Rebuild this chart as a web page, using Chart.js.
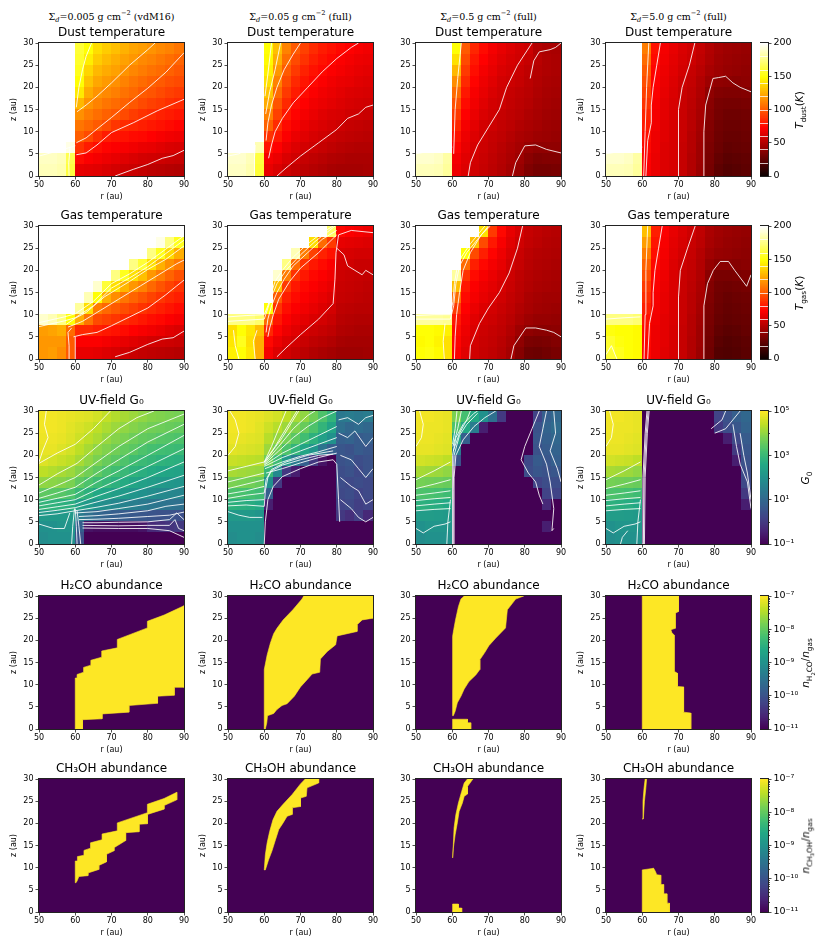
<!DOCTYPE html>
<html>
<head>
<meta charset="utf-8">
<script src="https://cdn.jsdelivr.net/npm/chart.js@4/dist/chart.umd.min.js"></script>
<style>
  body { margin: 0; background: #fff; }
  #fig { position: relative; width: 830px; height: 949px; overflow: hidden; }
  #fig canvas { position: absolute; }
  .hdr { position: absolute; font-family: 'DejaVu Serif', serif; font-size: 9.5px; white-space: nowrap; transform: translate(-50%, -50%); color: #000; }
  .cbl { position: absolute; font-family: 'DejaVu Sans', sans-serif; font-size: 10.5px; white-space: nowrap; transform: translate(-50%, -50%) rotate(-90deg); color: #000; }
  sub, sup { font-size: 70%; line-height: 0; }
</style>
</head>
<body>
<div id="fig"></div>
<script>
// ─── axes / categories ───────────────────────────────
const R_EDGES = [50, 52.5, 55, 57.5, 60, 62.5, 65, 67.5, 70, 72.5, 75, 77.5, 80, 82.5, 85, 87.5, 90];
const Z_EDGES = [30, 27.5, 25, 22.5, 20, 17.5, 15, 12.5, 10, 7.5, 5, 2.5, 0];
const R_TICKS = [50, 60, 70, 80, 90];
const Z_TICKS = [0, 5, 10, 15, 20, 25, 30];
const SIGMA_VALUES = ['0.005', '0.05', '0.5', '5.0'];
const SIGMA_NOTES = ['vdM16', 'full', 'full', 'full'];
const ROW_TITLES = ['Dust temperature', 'Gas temperature', 'UV-field G₀', 'H₂CO abundance', 'CH₃OH abundance'];
const TEMP_TICKS = [0, 50, 100, 150, 200];
const TEMP_LEVELS = [20, 40, 60, 80, 100, 120, 140, 160, 180];
const LOGG0_TICKS = [-1, 1, 3, 5];
const ABUND_TICKS = [-11, -10, -9, -8, -7];
const ABUND_FLOOR = -11;
const ABUND_PEAK = -7;

// ─── dust temperature (K), rows z=30→0, cols r=50→90 ────────
const TDUST_0005 = [
  [230,230,230,230,160,150,139,134,130,126,122,120,117,114,112,108],
  [230,230,230,230,158,144,134,129,125,121,118,114,112,109,106,103],
  [230,230,230,230,155,137,128,124,121,117,113,110,107,105,102,99],
  [230,230,230,230,150,131,123,119,116,112,108,105,102,100,97,95],
  [230,230,230,230,143,124,117,114,111,107,104,100,98,95,92,90],
  [230,230,230,230,128,117,112,108,105,102,99,95,92,90,87,85],
  [230,230,230,230,116,110,106,102,99,95,91,88,86,83,81,79],
  [230,230,230,230,108,104,100,95,89,86,84,82,80,78,76,74],
  [230,230,230,230,101,95,87,81,79,78,76,75,73,71,69,68],
  [205,205,203,195,88,81,77,74,72,71,69,67,66,64,62,61],
  [188,188,186,165,76,72,70,68,66,64,62,60,59,58,57,56],
  [186,186,184,162,66,65,64,62,60,58,57,55,53,52,51,50]
];
const TDUST_005 = [
  [230,230,230,230,150,130,112,100,92,86,81,78,75,73,71,69],
  [230,230,230,230,148,125,106,95,88,82,78,75,72,70,68,67],
  [230,230,230,230,145,118,100,90,83,78,75,72,70,68,66,65],
  [230,230,230,230,140,112,95,85,79,75,72,69,67,66,64,63],
  [230,230,230,230,132,105,90,81,76,72,69,67,65,63,62,61],
  [230,230,230,230,124,98,85,77,73,69,67,65,63,61,60,59],
  [230,230,230,230,112,92,80,74,70,67,64,62,61,59,58,57],
  [230,230,230,230,102,86,76,71,67,64,62,60,58,56,55,54],
  [230,230,230,228,88,80,72,67,64,61,59,57,55,54,53,52],
  [205,205,200,185,78,73,67,63,60,58,56,54,52,51,50,50],
  [190,190,186,162,70,67,62,59,56,54,52,50,49,48,48,48],
  [188,188,184,160,66,62,58,55,53,51,49,47,46,46,46,47]
];
const TDUST_05 = [
  [230,230,230,230,150,100,84,76,70,66,63,60,58,50,48,47],
  [230,230,230,230,140,95,80,73,68,64,61,59,56,52,49,48],
  [230,230,230,230,128,90,77,70,66,62,60,57,54,51,49,48],
  [230,230,230,230,115,85,74,68,64,60,58,56,53,50,48,47],
  [230,230,230,230,105,80,71,66,62,59,56,54,52,49,47,46],
  [230,230,230,230,97,76,69,64,60,58,55,53,51,48,46,45],
  [230,230,230,230,90,73,67,62,59,56,54,52,49,47,45,44],
  [230,230,230,230,84,70,65,60,58,55,53,50,48,46,44,43],
  [230,230,230,230,78,68,63,59,56,54,51,48,46,44,43,42],
  [205,205,203,200,74,66,61,58,55,52,49,46,42,40,40,40],
  [190,190,188,182,70,64,60,57,54,51,48,44,38,35,36,36],
  [186,186,185,180,68,63,59,56,53,50,46,42,35,32,32,33]
];
const TDUST_5 = [
  [230,230,230,230,110,78,70,66,62,59,55,50,46,44,43,42],
  [230,230,230,230,105,76,69,65,61,58,54,49,45,43,42,41],
  [230,230,230,230,100,74,68,64,60,56,52,47,44,42,41,40],
  [230,230,230,230,96,73,67,63,58,55,50,44,40,39,38,39],
  [230,230,230,230,92,72,66,62,57,54,49,40,36,35,35,36],
  [230,230,230,230,88,71,65,61,57,53,48,38,33,32,32,33],
  [230,230,230,230,84,70,65,61,57,52,47,37,32,30,30,31],
  [230,230,230,230,80,69,64,61,57,52,46,36,31,29,29,30],
  [230,230,230,230,77,68,64,61,57,51,45,35,30,28,28,29],
  [205,205,203,200,75,68,63,61,56,51,44,34,29,26,27,28],
  [190,190,188,182,73,67,63,61,56,50,44,33,27,24,25,26],
  [186,186,185,180,72,67,63,61,56,50,43,32,25,22,23,25]
];

// ─── gas temperature (K) ─────────────────────────────
const TGAS_0005 = [
  [230,230,230,230,230,230,230,230,230,230,230,230,230,230,220,200],
  [230,230,230,230,230,230,230,230,230,230,230,230,220,195,175,155],
  [230,230,230,230,230,230,230,230,230,230,230,200,175,155,138,125],
  [230,230,230,230,230,230,230,230,230,200,175,160,140,126,116,109],
  [230,230,230,230,230,230,230,200,175,155,140,130,118,110,103,97],
  [230,230,230,230,230,230,190,160,140,127,118,112,104,98,93,88],
  [230,230,230,230,230,185,150,125,115,108,103,98,93,89,85,82],
  [230,230,230,220,180,140,110,104,100,96,92,88,85,82,79,76],
  [190,185,175,150,125,108,95,92,89,86,83,80,77,75,72,70],
  [120,122,125,105,85,85,82,80,78,76,73,71,69,67,64,62],
  [118,118,118,100,72,72,72,70,68,66,64,62,60,59,58,57],
  [118,120,115,100,66,66,65,63,61,59,57,55,54,53,52,51]
];
const TGAS_005 = [
  [230,230,230,230,230,230,230,230,230,230,200,170,75,72,70,68],
  [230,230,230,230,230,230,230,230,200,140,105,90,66,65,64,63],
  [230,230,230,230,230,230,230,185,110,92,83,78,62,61,60,60],
  [230,230,230,230,230,230,175,105,88,80,76,72,60,59,57,57],
  [230,230,230,230,230,190,110,88,80,75,72,69,58,57,56,55],
  [230,230,230,230,230,130,90,80,75,72,69,66,57,56,55,54],
  [230,230,230,230,200,100,82,76,72,69,66,63,56,55,54,53],
  [230,230,230,230,150,88,77,72,69,66,63,60,54,53,52,52],
  [175,175,175,170,105,80,72,68,65,62,60,57,52,51,50,50],
  [140,150,142,130,85,74,68,64,61,58,56,54,50,49,48,48],
  [142,155,140,125,75,68,63,60,57,54,52,50,47,46,46,46],
  [145,150,142,125,70,63,59,56,53,50,48,46,44,44,44,45]
];
const TGAS_05 = [
  [230,230,230,230,230,230,200,140,90,75,66,61,56,54,52,51],
  [230,230,230,230,230,220,130,95,80,71,64,59,55,53,51,50],
  [230,230,230,230,230,150,95,82,74,68,62,57,53,51,50,49],
  [230,230,230,230,230,105,82,75,70,66,60,56,52,50,49,48],
  [230,230,230,230,180,88,76,71,67,63,58,54,51,49,48,47],
  [230,230,230,230,130,80,72,68,65,61,57,53,50,48,47,46],
  [230,230,230,230,105,76,70,66,63,59,55,52,48,46,45,45],
  [230,230,230,230,90,73,67,63,60,57,54,50,47,45,44,43],
  [180,180,180,178,80,70,64,60,58,55,52,48,44,42,42,41],
  [150,150,148,145,76,68,62,58,56,54,50,44,40,38,38,39],
  [148,150,146,140,74,66,60,57,55,52,48,40,34,33,34,36],
  [150,152,148,140,72,64,59,56,54,51,46,37,30,29,31,33]
];
const TGAS_5 = [
  [230,230,230,230,130,82,72,66,62,58,54,48,45,43,42,41],
  [230,230,230,230,120,79,71,65,61,57,53,47,44,42,41,40],
  [230,230,230,230,110,77,70,64,60,56,51,45,42,41,40,39],
  [230,230,230,230,102,75,69,63,58,55,50,42,38,38,37,38],
  [230,230,230,230,96,73,68,62,57,54,49,38,33,33,34,35],
  [230,230,230,230,90,72,67,62,57,53,48,36,31,30,31,32],
  [230,230,230,230,86,71,66,62,57,52,47,35,30,28,29,30],
  [230,230,230,230,82,70,66,62,57,52,46,34,29,27,28,29],
  [175,175,175,172,78,69,65,62,57,51,45,33,28,26,27,28],
  [152,150,150,148,76,68,65,61,56,51,44,32,26,24,25,27],
  [158,152,150,148,75,68,65,61,56,50,44,31,24,22,23,25],
  [160,155,150,148,74,68,64,61,56,50,43,30,22,21,22,24]
];

// ─── UV field, log10 G0 ──────────────────────────────
const LOGG0_0005 = [
  [4.9,4.9,4.85,4.8,4.75,4.7,4.6,4.45,4.3,4.2,4.1,4.0,3.9,3.85,3.8,3.75],
  [4.9,4.9,4.85,4.75,4.65,4.55,4.4,4.25,4.1,4.0,3.9,3.8,3.7,3.65,3.6,3.55],
  [4.85,4.85,4.8,4.7,4.55,4.4,4.25,4.05,3.9,3.8,3.65,3.55,3.5,3.4,3.35,3.3],
  [4.8,4.8,4.7,4.6,4.4,4.2,4.0,3.85,3.7,3.55,3.45,3.3,3.2,3.15,3.1,3.05],
  [4.7,4.6,4.5,4.4,4.2,4.0,3.8,3.6,3.45,3.3,3.15,3.05,2.95,2.85,2.8,2.75],
  [4.4,4.3,4.2,4.1,3.9,3.7,3.5,3.3,3.15,3.0,2.85,2.75,2.65,2.55,2.5,2.45],
  [4.0,3.95,3.9,3.8,3.5,3.3,3.1,2.95,2.8,2.65,2.5,2.4,2.3,2.2,2.15,2.1],
  [3.5,3.45,3.4,3.3,3.0,2.8,2.6,2.5,2.35,2.2,2.1,2.0,1.9,1.8,1.75,1.7],
  [2.9,2.85,2.8,2.75,2.4,2.2,2.0,1.9,1.75,1.65,1.55,1.45,1.35,1.3,1.25,1.2],
  [2.2,2.2,2.2,2.2,1.5,1.2,1.0,0.9,0.8,0.7,0.65,0.6,0.55,0.5,0.5,0.45],
  [2.0,2.0,2.1,2.1,0.8,-0.7,-0.8,-0.8,-0.8,-0.8,-0.8,-0.7,-0.3,-0.2,-0.1,0.0],
  [1.9,2.0,2.0,2.0,0.5,-1,-1,-1,-1,-1,-1,-1,-1,-1,-1,-1]
];
const LOGG0_005 = [
  [4.9,4.9,4.85,4.8,4.7,4.6,4.4,4.2,4.0,3.7,3.3,2.9,1.4,1.5,1.4,1.5],
  [4.9,4.9,4.85,4.75,4.55,4.35,4.1,3.85,3.6,3.3,2.9,2.5,1.2,1.0,1.1,1.0],
  [4.85,4.8,4.75,4.7,4.35,4.05,3.75,3.45,3.15,2.8,2.4,2.0,0.8,0.9,0.7,0.8],
  [4.75,4.7,4.65,4.6,4.1,3.7,3.3,2.9,2.5,2.1,1.3,0.8,0.6,0.5,0.7,0.6],
  [4.5,4.45,4.4,4.35,3.7,3.1,2.2,1.5,0.8,0.0,-0.7,-1,0.5,0.6,0.4,0.5],
  [4.2,4.15,4.1,4.05,3.0,1.8,0.0,-0.5,-1,-1,-1,-1,0.4,0.5,0.3,0.5],
  [3.8,3.75,3.7,3.6,2.0,0.0,-1,-1,-1,-1,-1,-1,0.4,0.3,0.4,0.3],
  [3.3,3.25,3.2,3.1,0.8,-1,-1,-1,-1,-1,-1,-1,0.3,0.4,0.2,0.3],
  [2.8,2.75,2.7,2.6,-0.5,-1,-1,-1,-1,-1,-1,-1,0.2,0.3,0.1,0.2],
  [2.2,2.2,2.2,2.1,-1,-1,-1,-1,-1,-1,-1,-1,0.0,-0.2,0.1,-0.3],
  [2.0,2.0,2.0,2.0,-1,-1,-1,-1,-1,-1,-1,-1,-1,-1,-1,-1],
  [1.9,2.0,2.0,1.9,-1,-1,-1,-1,-1,-1,-1,-1,-1,-1,-1,-1]
];
const LOGG0_05 = [
  [4.9,4.9,4.85,4.8,3.8,3.2,2.6,2.0,1.2,0.0,-1,-1,-1,0.2,0.8,1.0],
  [4.9,4.85,4.85,4.8,3.3,2.6,1.5,-0.5,-1,-1,-1,-1,-1,0.5,0.9,1.1],
  [4.85,4.85,4.8,4.75,2.5,0.8,-1,-1,-1,-1,-1,-1,-1,0.6,0.8,1.0],
  [4.8,4.8,4.75,4.7,1.5,-1,-1,-1,-1,-1,-1,-1,-1,0.5,0.7,0.9],
  [4.6,4.55,4.5,4.4,0.5,-1,-1,-1,-1,-1,-1,-1,0.3,0.7,0.6,0.8],
  [4.2,4.15,4.1,4.0,-1,-1,-1,-1,-1,-1,-1,-1,0.4,0.6,0.5,0.6],
  [3.75,3.7,3.65,3.6,-1,-1,-1,-1,-1,-1,-1,-1,-1,0.2,0.4,0.4],
  [3.3,3.25,3.2,3.1,-1,-1,-1,-1,-1,-1,-1,-1,-1,-1,0.2,0.2],
  [2.8,2.75,2.7,2.6,-1,-1,-1,-1,-1,-1,-1,-1,-1,-1,-0.3,-1],
  [2.3,2.3,2.25,2.2,-1,-1,-1,-1,-1,-1,-1,-1,-1,-1,-1,-1],
  [2.0,2.1,2.1,2.1,-1,-1,-1,-1,-1,-1,-1,-1,-1,-1,-0.5,-1],
  [1.9,2.0,2.0,2.0,-1,-1,-1,-1,-1,-1,-1,-1,-1,-1,-1,-1]
];
const LOGG0_5 = [
  [4.9,4.9,4.85,4.8,-1,-1,-1,-1,-1,-1,-1,-1,0.2,0.5,0.8,1.0],
  [4.9,4.85,4.85,4.8,-1,-1,-1,-1,-1,-1,-1,-1,0.0,0.4,0.6,0.9],
  [4.85,4.85,4.8,4.75,-1,-1,-1,-1,-1,-1,-1,-1,-1,-0.5,0.3,0.7],
  [4.8,4.8,4.75,4.7,-1,-1,-1,-1,-1,-1,-1,-1,-1,-1,0.0,0.6],
  [4.6,4.55,4.5,4.4,-1,-1,-1,-1,-1,-1,-1,-1,-1,-1,-0.5,0.5],
  [4.2,4.15,4.1,4.0,-1,-1,-1,-1,-1,-1,-1,-1,-1,-1,-1,0.4],
  [3.75,3.7,3.65,3.6,-1,-1,-1,-1,-1,-1,-1,-1,-1,-1,-1,0.3],
  [3.3,3.25,3.2,3.1,-1,-1,-1,-1,-1,-1,-1,-1,-1,-1,-1,0.0],
  [2.8,2.75,2.7,2.6,-1,-1,-1,-1,-1,-1,-1,-1,-1,-1,-1,-0.5],
  [2.3,2.3,2.25,2.2,-1,-1,-1,-1,-1,-1,-1,-1,-1,-1,-1,-1],
  [2.0,2.1,2.1,2.1,-1,-1,-1,-1,-1,-1,-1,-1,-1,-1,-1,-1],
  [1.9,2.0,2.0,2.0,-1,-1,-1,-1,-1,-1,-1,-1,-1,-1,-1,-1]
];

// ─── contour lines, [r, z] ───────────────────────────
const TDUST_LINES_0005 = [
  [[71,0],[76,1.5],[80,2.6],[84,4],[87,4.6],[90,5.8]],
  [[60.3,4.8],[63,5.2],[66,7],[70,9.8],[76,12],[82.6,14.7],[90,17.3]],
  [[60.3,7.5],[63,8.6],[66,10.6],[70,13.2],[75,16.6],[80,19.8],[85,23.4],[90,27.8]],
  [[60.5,14.5],[63,16],[66,18],[70,21],[75,25],[80,28.5],[82,30]],
  [[60.3,15.5],[61,20],[62,24],[63,27],[64.5,30]],
  [[50,4.5],[55,5.6],[60,6.8]],
  [[58.3,0],[58.2,3],[58.6,6.6]]
];
const TDUST_LINES_005 = [
  [[63.5,0],[66,1.8],[70,4.5],[75,7.5],[80,10.5],[83,13],[86,14],[88,15.5],[90,16]],
  [[61.2,4],[62,7],[63,10],[65,13],[68,16.5],[72,20],[76,23.5],[80,26.5],[84,29],[86,30]],
  [[60.5,8],[61,12],[62,16],[63.5,20],[65.5,24],[68,27.5],[70,30]],
  [[60.4,14],[61.5,19],[63,24],[64.5,30]],
  [[60.2,18],[61,23],[62,30]],
  [[50,4.5],[53,5],[57,7]],
  [[57.2,0],[57.3,4],[57.5,7]]
];
const TDUST_LINES_05 = [
  [[60.4,5],[60.8,15],[61.5,22],[62.5,30]],
  [[64.4,0],[65,3],[67,7],[70,11],[73,15],[75,20],[78,25],[82,30]],
  [[76.6,0],[77.5,3],[80,6.8],[83,7],[86,6],[90,5.2]],
  [[81.5,22],[82.5,26],[84,28],[87,28.5],[88.5,29],[90,30]],
  [[50,5],[55,5.8],[60,6.5]]
];
const TDUST_LINES_5 = [
  [[60.4,0],[60.8,10],[61.2,20],[61.8,30]],
  [[61,0],[61.5,8],[62.5,12],[62.5,16],[63,20],[64,25],[65,30]],
  [[70,0],[70,15],[71,20],[73,25],[74.5,30]],
  [[77,0],[77,10],[77.5,16],[79.5,22],[81,22.2],[83,22.5],[85,21],[87,20],[90,19]],
  [[50,5],[55,5.7],[60,6.5]]
];
const TGAS_LINES_0005 = [
  [[50,8.2],[57,9.5],[60,10.2],[65,13],[70,17],[75,19.2],[80,21.8],[85,24.8],[90,27.8]],
  [[50,7.3],[57,8.6],[60,9.3],[65,12],[70,16],[75,18.3],[80,20.8],[85,23.8],[90,26.8]],
  [[57.5,7.8],[60,9.2],[63,10.5],[68,14],[75,17.5],[80,20.2],[85,22.5],[90,25.5]],
  [[58,7.2],[62,8.5],[67,11],[72,13.5],[78,16.5],[83,19],[88,21.5],[90,22.3]],
  [[59.5,5],[62,5.5],[66,6],[70,7.5],[75,9.5],[80,11.5],[85,14.5],[88,16.5],[90,17.8]],
  [[71,0.5],[75,1.5],[80,3.3],[84,4.5],[87,4.8],[90,6.3]],
  [[58.3,0],[58.3,3],[58,6],[59,7]],
  [[60,0],[60,5]]
];
const TGAS_LINES_005 = [
  [[50,9.5],[55,9.8],[60,10],[61,12],[62,15],[63,17.5],[65,20],[68,23],[72,26],[76,28.5],[79,30]],
  [[50,8.5],[60,9],[61,11.5],[62,14],[63.5,17],[66,20],[70,23.5],[74,26.5],[78,29],[79.5,30]],
  [[60.5,6],[61,9],[62,12],[63.5,15],[65.5,18],[68,21],[72,24],[76,27],[80,29]],
  [[61,5],[61.5,7],[62.5,10],[64,13.5],[67,17.5],[70,20.5],[75,24],[80,28]],
  [[63.5,0.5],[66,2.5],[70,5.5],[75,9],[79,12.5],[79.5,18],[79.8,24],[80.5,28],[84,29],[90,28.5]],
  [[80,25],[82,23.5],[83,21],[85,20],[87,19],[88,20],[90,19]],
  [[57.5,0],[57,4],[58,6.5]],
  [[53,0],[52,3],[51.5,6.5]]
];
const TGAS_LINES_05 = [
  [[50,9.8],[55,10],[59.5,10],[60.2,13],[60.6,17],[61.2,20],[62.5,23],[65,26],[68,29],[69,30]],
  [[50,9],[59.5,9],[60.4,12],[61,17],[62,21],[64,24],[67,27],[70,30]],
  [[60.6,0],[60.8,5],[61.2,10],[62,15],[63,20],[65,24],[68,28],[70.5,30]],
  [[64.8,0],[65,3],[67.5,8],[70,11.5],[73,15],[75.7,19.4],[78,25],[79.4,30]],
  [[76.2,0],[77,3],[80.3,7],[83,7],[86,6.5],[88,6],[90,5]],
  [[57.8,0],[57.5,4],[58,8]]
];
const TGAS_LINES_5 = [
  [[60.5,0],[60.8,10],[61,20],[61.5,30]],
  [[61.5,0],[62,8],[63,12],[63,15],[63.5,20],[64.5,25],[65.5,30]],
  [[70,0],[70,14],[70.5,20],[72.5,25],[74.6,30]],
  [[77,0],[77,12],[78,17],[79.6,20],[81.5,22],[83.8,22],[85.5,20],[88.8,16.4],[90,19]],
  [[50,9],[55,9.3],[59.5,9.5]],
  [[50,1],[51.5,3],[53,0]]
];
const G0_LINES_0005 = [
  [[52,30],[51.5,27],[52.5,24],[51,21],[50,18.5]],
  [[50,18.2],[55,20.5],[60,22.5],[65,26],[69.7,30]],
  [[50,13.3],[55,15.8],[60.5,18.2],[66,22],[72,26],[77,28.5],[81.7,30]],
  [[50,11.5],[55,13.2],[60,15],[66,18.5],[72,22],[80,26],[90,29.3]],
  [[50,10.3],[55,11.5],[60,12.8],[66,16],[72,19],[80,23],[90,27]],
  [[50,9.4],[55,10.3],[60,11.2],[66,14],[72,16.5],[80,20],[90,24.5]],
  [[50,8.6],[55,9.3],[60,10],[66,12.3],[72,14.5],[80,17.5],[90,21.5]],
  [[50,7.8],[55,8.4],[60,9],[66,10.8],[72,12.5],[80,15],[90,18.5]],
  [[50,7.1],[55,7.6],[60,8.2],[66,9.5],[72,10.8],[80,12.8],[90,15.5]],
  [[50,6.4],[55,6.8],[60,7.5],[66,8.3],[72,9.2],[80,10.8],[90,13]],
  [[60,7],[66,7.3],[72,8],[80,9],[90,11]],
  [[61,6.2],[66,6.4],[72,6.8],[80,7.5],[85,8.5],[90,9]],
  [[61,5.5],[66,5.6],[72,5.8],[80,6.2],[86,6.5],[90,7.2]],
  [[62,4.8],[66,4.8],[72,4.9],[80,5],[86,5.5],[88,7],[90,5.5]],
  [[62,4.2],[72,4.1],[80,4.2],[86,4.2],[87.5,5.5],[88.5,3.5],[90,3]],
  [[62,3.6],[72,3.5],[80,3.5],[86,3],[90,1.5]],
  [[50,4.5],[54,3.5],[57,3.5],[58.5,7]],
  [[59,0],[59.3,4],[59.8,8]],
  [[60.5,0],[60.3,4],[60,8]],
  [[61.5,0],[61,4],[60.5,7.5]]
];
const G0_LINES_005 = [
  [[50.5,30],[52,28],[53,25],[52,22],[50,20]],
  [[50,16.5],[55,17.5],[60,18.5],[65,24],[69.5,30]],
  [[60,18.5],[62,22],[64,26],[66,30]],
  [[60,18.4],[63,22],[66,26],[69,30]],
  [[60,18.2],[64,22],[68,26],[72,29],[74,30]],
  [[60,18],[64,21],[68,24],[72,26.5],[76,28.5],[80,30]],
  [[60,17.8],[65,20.5],[70,22.5],[75,24.5],[80,26.5]],
  [[60,17.5],[65,19.5],[70,21],[75,22.5],[80,24]],
  [[60.2,17],[65,18.5],[70,19.8],[75,20.8],[80,22]],
  [[60.5,16],[65,17],[70,18.3],[75,19.5],[80,20.5]],
  [[60,11.5],[60.5,14.5],[62,16.8],[66,18.5],[72,20],[79,21]],
  [[60,8.5],[60.3,12],[61,15],[62,16.5],[65,17.8],[70,19],[75,20],[79,20.3]],
  [[60,0],[60.3,5],[61,10],[62.5,13],[65,15.2],[70,17],[75,18.5],[79,19],[80,18],[80.5,10],[80.8,5]],
  [[50,14],[55,15],[60,16]],
  [[50,12.5],[55,13.5],[60,14.5]],
  [[50,11.3],[55,12],[60,13]],
  [[50,10.3],[55,11],[60,11.5]],
  [[50,9.4],[55,9.8],[60,10]],
  [[50,8.6],[55,8.8],[60,8.5]],
  [[50,7.3],[53,6.5],[56,6],[59.5,6]],
  [[80.5,28],[83,28.5],[86,27],[88,28.5],[90,29]],
  [[80.5,25],[83,24],[85,25.5],[88,22],[90,24]],
  [[81,20],[84,19],[86,17],[88,15],[90,17]],
  [[81,15],[84,13],[86,12],[88,9],[90,10]],
  [[81,10],[84,8],[86,6],[88,5],[90,6]]
];
const G0_LINES_05 = [
  [[51,30],[52,27],[51.5,24],[50,22]],
  [[50,14.5],[55,16.5],[59.5,18.5]],
  [[50,12.5],[55,13.5],[59.5,14.5]],
  [[50,11],[55,11.5],[59.5,12]],
  [[50,9.8],[55,10.2],[59.5,10.5]],
  [[50,8.6],[55,9],[59.5,9.3]],
  [[50,7.5],[55,7.8],[59.5,8]],
  [[50,3.5],[52,2.5],[55,4],[58,4.5],[59.5,5]],
  [[58.5,0],[58.8,5],[59.5,10]],
  [[60,0],[60,10],[60.2,20],[61,24],[63,27],[66,29.5],[67,30]],
  [[60.25,0],[60.25,12],[60.5,20],[62,24.5],[64,27],[67,29.5]],
  [[60.5,0],[60.5,15],[61,20],[63,23.5],[66,26.5],[69,28.5],[72,30]],
  [[60.3,21],[62,25],[64,28],[65,30]],
  [[60.2,22],[61.5,26],[62.5,30]],
  [[60.1,22.5],[60.8,26],[61.3,30]],
  [[84,30],[82,26],[80,22],[79,19],[81,16],[83,14],[84,11],[85,9]],
  [[86,30],[85,26],[84,22],[86,18],[87,14],[88,8],[87.5,3],[88,3.5]],
  [[88,30],[88.5,25],[87,21],[89,17],[90,14]]
];
const G0_LINES_5 = [
  [[51,30],[52,27],[51.5,24],[50,22]],
  [[50,14.5],[55,16.5],[59.5,18.5]],
  [[50,12.5],[55,13.5],[59.5,14.5]],
  [[50,11],[55,11.5],[59.5,12]],
  [[50,9.8],[55,10.2],[59.5,10.5]],
  [[50,8.6],[55,9],[59.5,9.3]],
  [[50,7.5],[55,7.8],[59.5,8]],
  [[50,3.5],[52,2.5],[55,4],[58,4.5],[59.5,5]],
  [[54,0],[54.5,1.5],[56,3]],
  [[58.5,0],[58.8,5],[59.5,10]],
  [[60,0],[60.2,15],[60.8,25],[61.3,30]],
  [[60.3,0],[60.5,15],[61.1,25],[61.6,30]],
  [[60.6,0],[60.8,15],[61.4,25],[61.9,30]],
  [[79,26],[82,28],[83,30]],
  [[80,25],[83,26],[85,28],[87,30]],
  [[85,27],[86,22],[87,18],[89,14],[90,8]],
  [[87,25],[88,20],[89,16],[90,10]]
];

// ─── abundance regions at 1e-7 (outlines, [r, z]) ────
const H2CO_0005 = [
  [[60,0],[60,11.5],[60.5,11.5],[60.5,12.3],[62.3,12.8],[62.3,13.9],[64.3,14.4],[64.3,15.5],[67.3,16.2],[67.3,17.6],[71.6,18.3],[71.6,20.2],[79.9,22.8],[79.9,24.3],[84.5,25.7],[90,27.8],[90,9.4],[87.3,9.4],[87.3,7.6],[82.7,7.4],[82.7,5.8],[74.8,5.3],[74.8,3.8],[67.4,3.4],[67.4,2.3],[62,2.1],[62,0]]
];
const H2CO_005 = [
  [[60,0],[60,13.4],[60.8,16.7],[61.7,19.4],[62.6,21.5],[63.5,22.7],[65.2,24.6],[67.9,26.9],[70.4,29.3],[70.9,30],[90,30],[90,25],[87,24.6],[85.6,23.5],[85.6,22],[80.1,21],[79.7,19],[77.4,17.5],[75.5,15.8],[75.3,12.8],[73.2,12.4],[71.8,11.1],[70,9.5],[68.3,7.4],[66.3,5.7],[64.9,5.3],[63.5,4.4],[62.6,3.5],[60.9,3],[60.7,1.4],[60.3,0]]
];
const H2CO_05 = [
  [[60.1,3],[60.1,20.9],[60.4,22.4],[60.9,24.6],[61.7,27.6],[62.4,29.3],[63.3,30],[79.7,30],[77.5,29.3],[75.2,26.9],[74.7,22.8],[72,20.5],[70.1,18.8],[69,17.3],[67.6,15.6],[67.6,13.4],[66.5,12.2],[64.6,10.7],[63.3,9],[62.4,7.4],[61.4,5.9],[60.8,4],[60.3,3]],
  [[60.1,0],[60.1,2.2],[64.2,2.2],[64.2,1.4],[65.1,1.4],[65.1,0]]
];
const H2CO_5 = [
  [[60,0],[60,30],[70,30],[70,26.5],[69.1,26.1],[69.1,22.7],[67.9,22.4],[68.2,21.7],[68.8,21.2],[68.8,13],[69.7,12.6],[69.7,9.6],[71.4,9.5],[71.4,3.8],[73.4,3.6],[73.4,0]]
];
const CH3OH_0005 = [
  [[60.2,6.6],[60,7.5],[60,11.5],[60.6,11.5],[60.6,12.5],[62.4,12.8],[62.4,13.9],[64.2,14.4],[64.2,15.6],[67.4,16.3],[67.4,17.6],[71.6,18.3],[71.6,20.1],[79.9,22.4],[79.9,24.3],[84.5,25.6],[88,27],[88,25.3],[84.5,24],[84.5,23.2],[79.9,22],[79.9,19.9],[77.6,19.8],[77.6,18.1],[73.9,17.9],[73.9,16.1],[70.7,14.5],[70.7,13.8],[68.6,13],[68.6,11.3],[66.5,10.5],[66.5,9.6],[63.5,8.8],[63.5,8.2],[61,8],[60.5,7]]
];
const CH3OH_005 = [
  [[60,9.5],[60.3,12.9],[60.8,15.6],[61.5,18.2],[62.4,20.8],[63.5,22.7],[65.2,24.3],[67.7,26.5],[70,28.9],[71.3,30],[75,30],[75,29.1],[71.8,28],[71.6,26.1],[70,25.7],[70,23.8],[67.7,23.5],[67.7,22],[66.3,21.6],[65.2,20.1],[64,18.6],[63.1,16.3],[62.1,13.7],[61.2,11.8],[60.3,9.5]]
];
const CH3OH_05 = [
  [[60.1,12.2],[60.3,15.2],[60.5,19],[61,22],[61.7,24.6],[62.6,27.2],[63.3,29.1],[64.2,30],[65.7,30],[64.2,28.3],[64.2,26.6],[63.3,26.1],[62.8,24.6],[61.9,22.7],[61.4,20.1],[60.8,17.4],[60.3,14.4]],
  [[60.1,0],[60.1,1.8],[61.7,1.8],[61.7,0.9],[62.6,0.9],[62.6,0]]
];
const CH3OH_5 = [
  [[60,21],[60.2,25],[60.5,28],[60.8,30],[61.2,30],[61,28],[60.6,25],[60.3,21]],
  [[60,0],[60,9.5],[62.7,9.8],[63.1,9.9],[63.6,9.2],[64,8.4],[65.1,8.3],[65.1,6.2],[65.9,6.2],[65.9,4.1],[66.8,4.1],[66.8,2],[67.5,2],[67.5,0]]
];

// ─── layout ──────────────────────────────────────────
const COL_LEFT = [39, 228, 416, 606];
const ROW_TOP = [43, 226, 411, 596, 779];
const PW = 145, PH = 133;
const AX_W = 30, TITLE_H = 24, AX_H = 27, PAD_R = 8;
const CB_LEFT = 760, CB_W = 8, CB_CANVAS_W = 62;
const CB_LABEL_X = [799, 799, 805, 806, 806];

Chart.defaults.font.family = "'DejaVu Sans', sans-serif";
Chart.defaults.color = '#000';

// ─── colour maps ─────────────────────────────────────
const VIRIDIS = ['#440154','#482475','#414487','#355f8d','#2a788e','#21918c','#22a884','#44bf70','#7ad151','#bddf26','#fde725'];
const clamp01 = t => Math.max(0, Math.min(1, t));
function hexRgb(h) { return [1, 3, 5].map(i => parseInt(h.slice(i, i + 2), 16)); }
function viridis(t) {
  t = clamp01(t);
  const f = t * 10, i = Math.min(9, Math.floor(f)), u = f - i;
  const a = hexRgb(VIRIDIS[i]), b = hexRgb(VIRIDIS[i + 1]);
  return `rgb(${a.map((c, k) => Math.round(c + (b[k] - c) * u)).join(',')})`;
}
function hot(t) {
  t = clamp01(t);
  const r = t < 0.365079 ? 0.0416 + 0.9584 * t / 0.365079 : 1;
  const g = t < 0.365079 ? 0 : t < 0.746032 ? (t - 0.365079) / 0.380953 : 1;
  const b = t < 0.746032 ? 0 : (t - 0.746032) / 0.253968;
  return `rgb(${Math.round(r * 255)},${Math.round(g * 255)},${Math.round(b * 255)})`;
}
function colorFor(cmap, v) {
  if (cmap === 'hot') return hot(v / 200);
  if (cmap === 'uv') return viridis((v + 1) / 6);
  return viridis((v - ABUND_FLOOR) / (ABUND_PEAK - ABUND_FLOOR));
}
const SUP = { '-': '⁻', '0': '⁰', '1': '¹', '2': '²', '3': '³', '4': '⁴', '5': '⁵', '6': '⁶', '7': '⁷', '8': '⁸', '9': '⁹' };
const pow10 = v => '10' + String(v).split('').map(c => SUP[c]).join('');

// ─── panels ──────────────────────────────────────────
const PANELS = [
  { row: 0, col: 0, grid: TDUST_0005, cmap: 'hot', lines: TDUST_LINES_0005 },
  { row: 0, col: 1, grid: TDUST_005, cmap: 'hot', lines: TDUST_LINES_005 },
  { row: 0, col: 2, grid: TDUST_05, cmap: 'hot', lines: TDUST_LINES_05 },
  { row: 0, col: 3, grid: TDUST_5, cmap: 'hot', lines: TDUST_LINES_5 },
  { row: 1, col: 0, grid: TGAS_0005, cmap: 'hot', lines: TGAS_LINES_0005 },
  { row: 1, col: 1, grid: TGAS_005, cmap: 'hot', lines: TGAS_LINES_005 },
  { row: 1, col: 2, grid: TGAS_05, cmap: 'hot', lines: TGAS_LINES_05 },
  { row: 1, col: 3, grid: TGAS_5, cmap: 'hot', lines: TGAS_LINES_5 },
  { row: 2, col: 0, grid: LOGG0_0005, cmap: 'uv', lines: G0_LINES_0005 },
  { row: 2, col: 1, grid: LOGG0_005, cmap: 'uv', lines: G0_LINES_005 },
  { row: 2, col: 2, grid: LOGG0_05, cmap: 'uv', lines: G0_LINES_05 },
  { row: 2, col: 3, grid: LOGG0_5, cmap: 'uv', lines: G0_LINES_5 },
  { row: 3, col: 0, polys: H2CO_0005 },
  { row: 3, col: 1, polys: H2CO_005 },
  { row: 3, col: 2, polys: H2CO_05 },
  { row: 3, col: 3, polys: H2CO_5 },
  { row: 4, col: 0, polys: CH3OH_0005 },
  { row: 4, col: 1, polys: CH3OH_005 },
  { row: 4, col: 2, polys: CH3OH_05 },
  { row: 4, col: 3, polys: CH3OH_5 }
];
const CBARS = [
  { row: 0, cmap: 'hot', min: 0, max: 200, ticks: TEMP_TICKS, levels: TEMP_LEVELS, label: '<i>T</i><sub>dust</sub>(<i>K</i>)' },
  { row: 1, cmap: 'hot', min: 0, max: 200, ticks: TEMP_TICKS, levels: TEMP_LEVELS, label: '<i>T</i><sub>gas</sub>(<i>K</i>)' },
  { row: 2, cmap: 'uv', min: -1, max: 5, ticks: LOGG0_TICKS, log: true, label: '<i>G</i><sub>0</sub>' },
  { row: 3, cmap: 'abund', min: -11, max: -7, ticks: ABUND_TICKS, log: true, label: '<i>n</i><sub>H<sub>2</sub>CO</sub>/<i>n</i><sub>gas</sub>' },
  { row: 4, cmap: 'abund', min: -11, max: -7, ticks: ABUND_TICKS, log: true, label: '<i>n</i><sub>CH<sub>3</sub>OH</sub>/<i>n</i><sub>gas</sub>' }
];
const PANEL_BY_ID = {};
const CBAR_BY_ID = {};
const fig = document.getElementById('fig');

function drawFrame(chart) {
  const { ctx, chartArea: a } = chart;
  ctx.save();
  ctx.strokeStyle = '#222';
  ctx.lineWidth = 1;
  ctx.strokeRect(a.left - 0.5, a.top - 0.5, a.width + 1, a.height + 1);
  ctx.restore();
}

// cells of the field, coloured through the x/y scales
const heatPlugin = {
  id: 'heat',
  beforeDatasetsDraw(chart) {
    const p = PANEL_BY_ID[chart.canvas.id];
    const { ctx, chartArea: a, scales: { x, y } } = chart;
    ctx.save();
    ctx.beginPath(); ctx.rect(a.left, a.top, a.width, a.height); ctx.clip();
    if (p.polys) {
      ctx.fillStyle = colorFor('abund', ABUND_FLOOR);
      ctx.fillRect(a.left, a.top, a.width, a.height);
    }
    if (p.grid) {
      p.grid.forEach((row, i) => row.forEach((v, j) => {
        const x0 = Math.floor(x.getPixelForValue(R_EDGES[j])), x1 = Math.ceil(x.getPixelForValue(R_EDGES[j + 1]));
        const y0 = Math.floor(y.getPixelForValue(Z_EDGES[i])), y1 = Math.ceil(y.getPixelForValue(Z_EDGES[i + 1]));
        ctx.fillStyle = colorFor(p.cmap, v);
        ctx.fillRect(x0, y0, x1 - x0, y1 - y0);
      }));
    }
    ctx.restore();
  },
  afterDraw: drawFrame
};

const cbarPlugin = {
  id: 'cbar',
  beforeDatasetsDraw(chart) {
    const cb = CBAR_BY_ID[chart.canvas.id];
    const { ctx, chartArea: a, scales: { y } } = chart;
    const n = 266;
    ctx.save();
    for (let i = 0; i < n; i++) {
      const v0 = cb.min + (cb.max - cb.min) * i / n, v1 = cb.min + (cb.max - cb.min) * (i + 1) / n;
      const ya = y.getPixelForValue(v0), yb = y.getPixelForValue(v1);
      ctx.fillStyle = colorFor(cb.cmap, (v0 + v1) / 2);
      ctx.fillRect(a.left, Math.floor(yb), a.width, Math.ceil(ya) - Math.floor(yb));
    }
    (cb.levels || []).forEach(v => {
      const yy = Math.round(y.getPixelForValue(v)) + 0.5;
      ctx.strokeStyle = 'rgba(255,255,255,0.75)';
      ctx.lineWidth = 1;
      ctx.beginPath(); ctx.moveTo(a.left, yy); ctx.lineTo(a.right, yy); ctx.stroke();
    });
    ctx.restore();
  },
  afterDraw(chart) {
    const cb = CBAR_BY_ID[chart.canvas.id];
    const { ctx, chartArea: a, scales: { y } } = chart;
    drawFrame(chart);
    if (!cb.log) return;
    ctx.save();
    ctx.strokeStyle = '#222';
    ctx.lineWidth = 0.8;
    for (let d = cb.min; d < cb.max; d++) {
      const minors = cb.cmap === 'uv' ? [10] : [2, 3, 4, 5, 6, 7, 8, 9];
      minors.forEach(k => {
        const v = cb.cmap === 'uv' ? d + 1 : d + Math.log10(k);
        if (cb.ticks.includes(v)) return;
        const yy = Math.round(y.getPixelForValue(v)) + 0.5;
        ctx.beginPath(); ctx.moveTo(a.right, yy); ctx.lineTo(a.right + 2, yy); ctx.stroke();
      });
    }
    ctx.restore();
  }
};

const TICK_GRID = { display: true, drawOnChartArea: false, drawTicks: true, tickLength: 3.5, color: '#222', lineWidth: 0.8 };

function makePanel(p) {
  const cv = document.createElement('canvas');
  cv.id = 'panel' + p.row + p.col;
  cv.width = AX_W + PW + PAD_R;
  cv.height = TITLE_H + PH + AX_H;
  cv.style.left = (COL_LEFT[p.col] - AX_W) + 'px';
  cv.style.top = (ROW_TOP[p.row] - TITLE_H) + 'px';
  fig.appendChild(cv);
  PANEL_BY_ID[cv.id] = p;

  const fillColor = colorFor('abund', ABUND_PEAK);
  const datasets = [];
  (p.polys || []).forEach(poly => datasets.push({
    data: poly.concat([poly[0]]).map(q => ({ x: q[0], y: q[1] })),
    showLine: true, fill: 'shape', backgroundColor: fillColor,
    borderColor: fillColor, borderWidth: 0.6, pointRadius: 0, tension: 0
  }));
  (p.lines || []).forEach(line => datasets.push({
    data: line.map(q => ({ x: q[0], y: q[1] })),
    showLine: true, fill: false, borderColor: 'rgba(255,255,255,0.95)',
    borderWidth: 0.9, pointRadius: 0, tension: 0
  }));

  new Chart(cv, {
    type: 'scatter',
    data: { datasets },
    options: {
      responsive: false, animation: false, events: [],
      layout: { padding: { left: 0, right: PAD_R, top: 0, bottom: 0 } },
      plugins: {
        legend: { display: false }, tooltip: { enabled: false },
        title: {
          display: true, fullSize: false, text: ROW_TITLES[p.row], color: '#000',
          font: { size: 12, weight: 'normal' }, padding: { top: 6.5, bottom: 3.1 }
        }
      },
      scales: {
        x: {
          type: 'linear', min: 50, max: 90,
          afterBuildTicks: s => { s.ticks = R_TICKS.map(v => ({ value: v })); },
          afterFit: s => { s.height = AX_H; },
          ticks: { font: { size: 8 }, padding: 1, maxRotation: 0, autoSkip: false },
          grid: TICK_GRID, border: { display: false },
          title: { display: true, text: 'r (au)', font: { size: 8 }, padding: { top: 0, bottom: 1 } }
        },
        y: {
          type: 'linear', min: 0, max: 30,
          afterBuildTicks: s => { s.ticks = Z_TICKS.map(v => ({ value: v })); },
          afterFit: s => { s.width = AX_W; },
          ticks: { font: { size: 8 }, padding: 2, autoSkip: false },
          grid: TICK_GRID, border: { display: false },
          title: { display: p.col !== 2, text: 'z (au)', font: { size: 8 }, padding: { top: 0, bottom: 0 } }
        }
      }
    },
    plugins: [heatPlugin]
  });
}

function makeCbar(cb) {
  const cv = document.createElement('canvas');
  cv.id = 'cbar' + cb.row;
  cv.width = CB_CANVAS_W;
  cv.height = TITLE_H + PH + AX_H;
  cv.style.left = CB_LEFT + 'px';
  cv.style.top = (ROW_TOP[cb.row] - TITLE_H) + 'px';
  fig.appendChild(cv);
  CBAR_BY_ID[cv.id] = cb;

  new Chart(cv, {
    type: 'scatter',
    data: { datasets: [] },
    options: {
      responsive: false, animation: false, events: [],
      layout: { padding: { left: 0, right: 0, top: TITLE_H, bottom: AX_H } },
      plugins: { legend: { display: false }, tooltip: { enabled: false } },
      scales: {
        x: { display: false, min: 0, max: 1 },
        y: {
          position: 'right', min: cb.min, max: cb.max,
          afterBuildTicks: s => { s.ticks = cb.ticks.map(v => ({ value: v })); },
          afterFit: s => { s.width = CB_CANVAS_W - CB_W; },
          ticks: { font: { size: 9.5 }, padding: 2, autoSkip: false, callback: v => cb.log ? pow10(v) : String(v) },
          grid: TICK_GRID, border: { display: false }
        }
      }
    },
    plugins: [cbarPlugin]
  });

  const lab = document.createElement('div');
  lab.className = 'cbl';
  lab.style.left = CB_LABEL_X[cb.row] + 'px';
  lab.style.top = (ROW_TOP[cb.row] + PH / 2) + 'px';
  lab.innerHTML = cb.label;
  fig.appendChild(lab);
}

SIGMA_VALUES.forEach((s, c) => {
  const h = document.createElement('div');
  h.className = 'hdr';
  h.style.left = (COL_LEFT[c] + PW / 2) + 'px';
  h.style.top = '16px';
  h.innerHTML = `Σ<sub><i>d</i></sub>=${s} g cm<sup>−2</sup> (${SIGMA_NOTES[c]})`;
  fig.appendChild(h);
});
PANELS.forEach(makePanel);
CBARS.forEach(makeCbar);
</script>
</body>
</html>
